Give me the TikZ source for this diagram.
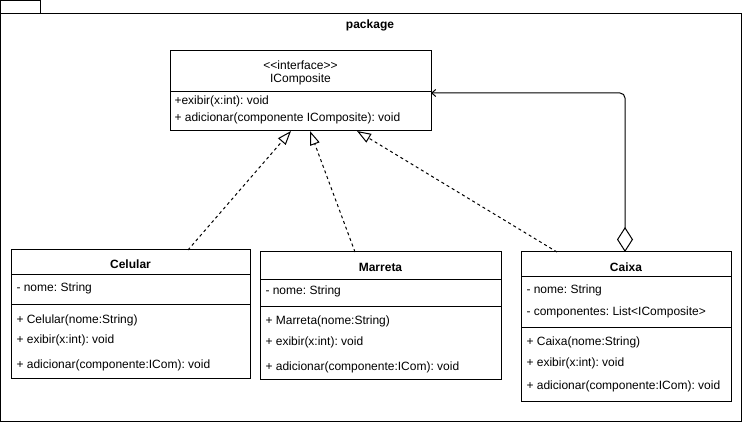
\documentclass[tikz,border=0pt]{standalone}
\usepackage{fontspec}
\setmainfont{Liberation Sans}
\usetikzlibrary{arrows.meta}
\begin{document}
\frenchspacing
\begin{tikzpicture}[x=1pt,y=-1pt,line width=1pt,
  txt/.style={font=\fontsize{12}{14}\selectfont\frenchspacing,inner sep=0pt,anchor=west},
  ttl/.style={font=\fontsize{12}{14}\selectfont\bfseries,inner sep=0pt},
  cls/.style={draw,fill=white,inner sep=0pt,outer sep=0pt,anchor=north west},
  realize/.style={dash pattern=on 3pt off 3pt,-{Triangle[open,length=14pt,width=10pt]}},
  aggr/.style={rounded corners=5pt,{Diamond[open,length=25pt,width=16pt]}-{Straight Barb[length=4pt,width=7pt,line width=1pt]}}]
\useasboundingbox (0,0) rectangle (742,422);
% package frame
\draw (0.5,0.5) rectangle (40.5,14);
\node[draw,inner sep=0pt,outer sep=0pt,anchor=north west,minimum width=741pt,minimum height=407.5pt] (pkg) at (0.5,14) {};
\node[ttl] (pkgl) at (370,25) {package};
% interface
\node[cls,minimum width=261pt,minimum height=80pt] (iface) at (170,51) {};
\draw (iface.west |- 0,92) -- (iface.east |- 0,92);
\node[font=\fontsize{12}{14}\selectfont,inner sep=0pt] (ist) at (300.5,65) {<\kern0pt<interface>\kern0pt>};
\node[font=\fontsize{12}{14}\selectfont,inner sep=0pt] (inm) at (300.5,79) {IComposite};
\node[txt] (im1) at (174,101) {+exibir(x:int): void};
\node[txt] (im2) at (174,118) {+ adicionar(componente IComposite): void};
% Celular
\node[cls,minimum width=239pt,minimum height=128pt] (cel) at (11,250) {};
\draw (cel.west |- 0,275) -- (cel.east |- 0,275);
\draw (cel.west |- 0,304) -- (cel.east |- 0,304);
\node[ttl] (celn) at (130.5,264) {Celular};
\node[txt] (cela1) at (16,288) {- nome: String};
\node[txt] (celm1) at (16,320) {+ Celular(nome:String)};
\node[txt] (celm2) at (16,340) {+ exibir(x:int): void};
\node[txt] (celm3) at (16,365) {+ adicionar(componente:ICom): void};
% Marreta
\node[cls,minimum width=241pt,minimum height=127pt] (mar) at (260,252) {};
\draw (mar.west |- 0,280) -- (mar.east |- 0,280);
\node[ttl] (marn) at (380.5,267) {Marreta};
\draw (mar.west |- 0,306) -- (mar.east |- 0,306);
\node[txt] (mara1) at (265,291) {- nome: String};
\node[txt] (marm1) at (265,321) {+ Marreta(nome:String)};
\node[txt] (marm2) at (265,342) {+ exibir(x:int): void};
\node[txt] (marm3) at (265,367) {+ adicionar(componente:ICom): void};
% Caixa
\node[cls,minimum width=210pt,minimum height=149pt] (cai) at (521,252) {};
\draw (cai.west |- 0,277) -- (cai.east |- 0,277);
\draw (cai.west |- 0,327) -- (cai.east |- 0,327);
\node[ttl] (cain) at (626,267) {Caixa};
\node[txt] (caia1) at (526,290) {- nome: String};
\node[txt] (caia2) at (526,312) {- componentes: List<IComposite>};
\node[txt] (caim1) at (526,342) {+ Caixa(nome:String)};
\node[txt] (caim2) at (526,363) {+ exibir(x:int): void};
\node[txt] (caim3) at (526,386) {+ adicionar(componente:ICom): void};
% connectors
\draw[realize] ([xshift=57.5pt]cel.north) -- ([xshift=-9.5pt]iface.south);
\draw[realize] ([xshift=-25.5pt]mar.north) -- ([xshift=9.5pt]iface.south);
\draw[realize] ([xshift=-69pt]cai.north) -- ([xshift=56.5pt]iface.south);
\draw[aggr] ([xshift=-1pt]cai.north) |- ([yshift=-2pt]iface.east);
\end{tikzpicture}
\end{document}
